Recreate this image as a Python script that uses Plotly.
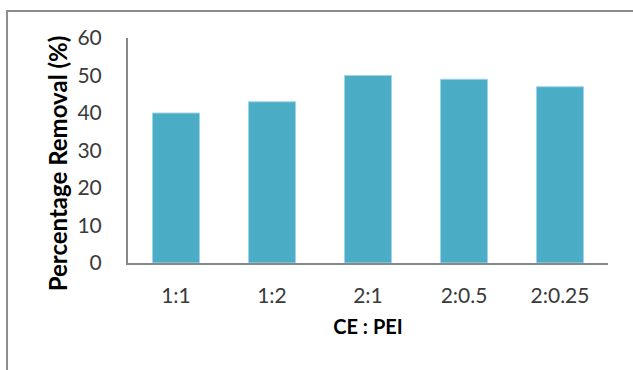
import plotly.graph_objects as go

# CE:PEI ratios and the percentage removal measured for each
ratios = ["1:1", "1:2", "2:1", "2:0.5", "2:0.25"]
removal_pct = [40, 43, 50, 49, 47]
y_ticks = [0, 10, 20, 30, 40, 50, 60]

BAR_COLOR = "#4BACC6"
AXIS_COLOR = "#878787"
FONT = "Lato"

fig = go.Figure(
    go.Bar(
        x=ratios,
        y=removal_pct,
        marker=dict(color=BAR_COLOR, line=dict(color="#9fd4e2", width=1)),
    )
)

fig.update_layout(
    width=633,
    height=370,
    margin=dict(l=128, r=25, t=38, b=107),
    paper_bgcolor="white",
    plot_bgcolor="white",
    bargap=0.51,
    showlegend=False,
    font=dict(family=FONT, size=21, color="#3a3a3a"),
    shapes=[
        # chart-area border (runs off the right and bottom edges)
        dict(
            type="rect",
            xref="paper",
            yref="paper",
            x0=-0.252,
            x1=1.08,
            y0=-0.55,
            y1=1.12,
            line=dict(color="#8c8c8c", width=2),
            fillcolor="rgba(0,0,0,0)",
            layer="below",
        )
    ],
    annotations=[
        # vertical axis title, set slightly below the plot's mid-height
        dict(
            text="<b>Percentage Removal (%)</b>",
            textangle=-90,
            xref="paper",
            yref="paper",
            x=-0.147,
            y=0.445,
            xanchor="center",
            yanchor="middle",
            showarrow=False,
            font=dict(family=FONT, size=24, color="#000000"),
        )
    ],
)

fig.update_xaxes(
    showline=True,
    linecolor=AXIS_COLOR,
    linewidth=2,
    showgrid=False,
    ticks="",
    ticklabelstandoff=13,
    tickfont=dict(family=FONT, size=21, color="#3a3a3a"),
    title=dict(
        text="<b>CE : PEI</b>",
        font=dict(family=FONT, size=20, color="#000000"),
        standoff=14,
    ),
)

fig.update_yaxes(
    range=[0, 60],
    tickvals=y_ticks,
    showline=True,
    linecolor=AXIS_COLOR,
    linewidth=2,
    showgrid=False,
    zeroline=False,
    ticks="",
    ticklabelstandoff=20,
    tickfont=dict(family=FONT, size=21, color="#3a3a3a"),
)

fig.write_html("out.html")
